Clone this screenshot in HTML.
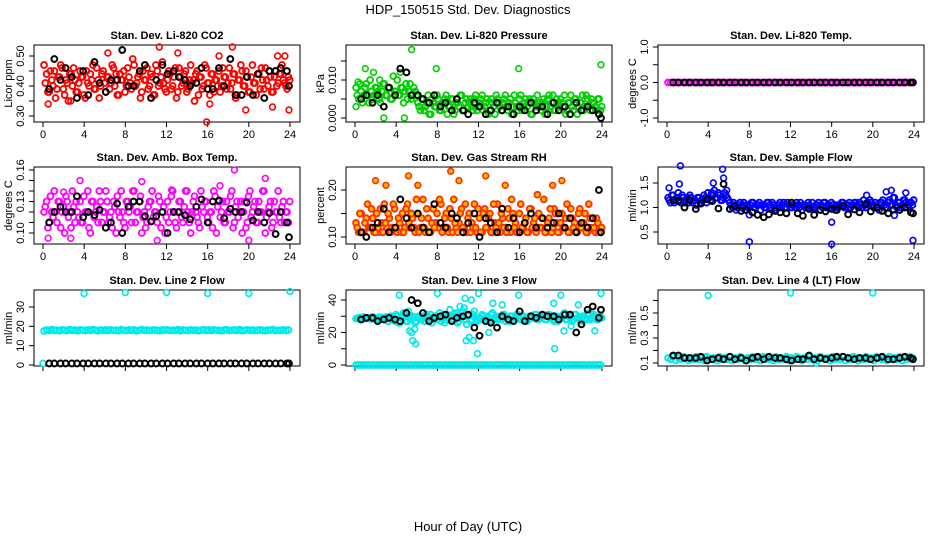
<!DOCTYPE html>
<html><head><meta charset="utf-8"><style>
html,body{margin:0;padding:0;background:#fff;}
svg{display:block;font-family:"Liberation Sans",Arial,sans-serif;}
</style></head><body>
<svg id="chart" width="936" height="540" viewBox="0 0 936 540" xmlns="http://www.w3.org/2000/svg">
<rect width="936" height="540" fill="#fff"/>
<text x="468" y="14" font-size="13" text-anchor="middle">HDP_150515  Std. Dev. Diagnostics</text>
<text x="468" y="531" font-size="13" text-anchor="middle">Hour of Day (UTC)</text>
</svg>
<script>
// shared black-point hours
const blackHours=[0.6,1.1,1.7,2.2,2.8,3.3,3.9,4.4,5.0,5.5,6.1,6.6,7.2,7.7,8.3,8.8,9.4,9.9,10.5,11.0,11.6,12.1,12.7,13.2,13.8,14.3,14.9,15.4,16.0,16.5,17.1,17.6,18.2,18.7,19.3,19.8,20.4,20.9,21.5,22.0,22.6,23.1,23.7,23.9];
const xTicks=[0,4,8,12,16,20,24];

// Panel 1: CO2
const co2A=[0.47,0.44,0.38,0.42,0.45,0.39,0.43,0.46,0.37,0.41,0.44,0.40,0.42,0.38,0.45,0.43,0.36,0.41,0.44,0.47,0.39,0.42,0.40,0.45,0.38,0.43,0.41,0.46,0.44,0.37,0.42,0.45,0.40,0.43,0.39,0.47,0.41,0.44,0.38,0.42,0.46,0.40,0.43,0.37,0.45,0.41,0.48,0.39,0.42,0.44,0.40,0.46,0.38,0.43,0.41,0.45,0.39,0.47,0.42,0.44,0.37,0.43,0.40,0.46,0.41,0.44,0.38,0.42,0.45,0.40,0.43,0.39,0.46,0.41,0.44,0.37,0.42,0.45,0.40,0.43,0.38,0.47,0.41,0.44,0.39,0.42,0.46,0.40,0.43,0.38,0.45,0.41,0.44,0.42,0.40,0.43];
const co2B=[0.41,0.38,0.45,0.40,0.36,0.43,0.47,0.39,0.42,0.35,0.44,0.46,0.38,0.41,0.43,0.37,0.45,0.40,0.42,0.39,0.46,0.36,0.44,0.41,0.43,0.39,0.47,0.40,0.37,0.44,0.42,0.38,0.46,0.41,0.49,0.40,0.43,0.36,0.45,0.42,0.39,0.44,0.37,0.47,0.40,0.43,0.41,0.38,0.45,0.39,0.43,0.36,0.46,0.40,0.44,0.38,0.42,0.41,0.35,0.45,0.43,0.39,0.47,0.41,0.37,0.44,0.42,0.40,0.38,0.46,0.43,0.41,0.39,0.44,0.36,0.42,0.47,0.40,0.45,0.38,0.43,0.41,0.37,0.44,0.46,0.39,0.42,0.45,0.38,0.43,0.40,0.44,0.47,0.41,0.39,0.42];
const co2OutH=[0.1,0.5,2.7,6.3,11.3,13.1,15.9,16.2,18.4,19.7,22.3,23.9,22.8,23.5,17.1];
const co2OutV=[0.47,0.34,0.35,0.51,0.53,0.51,0.28,0.34,0.53,0.32,0.33,0.32,0.50,0.50,0.50];
const co2Black=[0.39,0.49,0.42,0.46,0.43,0.36,0.45,0.37,0.48,0.41,0.38,0.42,0.42,0.52,0.40,0.40,0.45,0.47,0.36,0.42,0.47,0.44,0.45,0.43,0.42,0.40,0.41,0.46,0.39,0.39,0.46,0.40,0.49,0.37,0.37,0.43,0.37,0.44,0.36,0.45,0.45,0.46,0.45,0.40];

// Panel 2: pressure
const presA=[0.008,0.005,0.007,0.006,0.009,0.004,0.007,0.006,0.008,0.005,0.007,0.009,0.006,0.008,0.005,0.007,0.010,0.006,0.008,0.007,0.005,0.009,0.006,0.007,0.004,0.002,0.005,0.003,0.006,0.001,0.004,0.003,0.005,0.002,0.004,0.006,0.003,0.005,0.001,0.004,0.003,0.006,0.002,0.005,0.004,0.003,0.005,0.002,0.004,0.006,0.003,0.005,0.002,0.004,0.001,0.005,0.003,0.004,0.006,0.002,0.005,0.003,0.004,0.002,0.006,0.003,0.005,0.004,0.001,0.005,0.003,0.004,0.002,0.005,0.003,0.006,0.004,0.002,0.005,0.003,0.004,0.006,0.002,0.004,0.003,0.005,0.001,0.004,0.006,0.003,0.005,0.002,0.004,0.003,0.005,0.002];
const presB=[0.006,0.009,0.004,0.008,0.006,0.010,0.005,0.008,0.007,0.004,0.009,0.006,0.008,0.005,0.011,0.007,0.006,0.008,0.004,0.009,0.007,0.005,0.008,0.006,0.003,0.005,0.002,0.004,0.001,0.005,0.003,0.006,0.002,0.004,0.005,0.001,0.003,0.005,0.002,0.004,0.006,0.002,0.004,0.003,0.005,0.002,0.006,0.003,0.005,0.002,0.004,0.001,0.005,0.003,0.006,0.004,0.002,0.005,0.003,0.004,0.001,0.006,0.003,0.005,0.002,0.004,0.003,0.005,0.001,0.004,0.006,0.003,0.004,0.001,0.005,0.003,0.006,0.002,0.004,0.005,0.003,0.001,0.004,0.006,0.002,0.005,0.003,0.004,0.002,0.006,0.003,0.005,0.004,0.002,0.005,0.003];
const presOutH=[0.3,1.0,1.8,2.4,5.5,4.4,23.9,15.9,7.9,0.1,2.8,4.8];
const presOutV=[0.0095,0.013,0.012,0.010,0.018,0.012,0.014,0.013,0.013,0.003,0.0,0.0];
const presBlack=[0.005,0.006,0.004,0.006,0.003,0.008,0.006,0.013,0.012,0.006,0.006,0.005,0.004,0.006,0.003,0.004,0.002,0.005,0.002,0.001,0.004,0.003,0.001,0.002,0.004,0.002,0.003,0.001,0.003,0.002,0.004,0.002,0.003,0.001,0.004,0.002,0.003,0.001,0.004,0.002,0.003,0.002,0.001,0.000];

// Panel 3: Li-820 temp
const tempA=[0,0,0,0,0,0,0,0,0,0,0,0,0,0,0,0,0,0,0,0,0,0,0,0,0,0,0,0,0,0,0,0,0,0,0,0,0,0,0,0,0,0,0,0,0,0,0,0,0,0,0,0,0,0,0,0,0,0,0,0,0,0,0,0,0,0,0,0,0,0,0,0,0,0,0,0,0,0,0,0,0,0,0,0,0,0,0,0,0,0,0,0,0,0,0,0];
const tempBlack=[0,0,0,0,0,0,0,0,0,0,0,0,0,0,0,0,0,0,0,0,0,0,0,0,0,0,0,0,0,0,0,0,0,0,0,0,0,0,0,0,0,0,0,0];

// Panel 4: amb box temp
const boxA=[0.12,0.13,0.11,0.12,0.14,0.11,0.13,0.12,0.10,0.13,0.12,0.14,0.11,0.12,0.13,0.11,0.12,0.14,0.10,0.13,0.12,0.11,0.13,0.12,0.14,0.11,0.12,0.13,0.10,0.12,0.14,0.11,0.13,0.12,0.11,0.14,0.12,0.13,0.10,0.12,0.11,0.13,0.14,0.12,0.11,0.13,0.12,0.10,0.13,0.12,0.14,0.11,0.12,0.13,0.11,0.14,0.12,0.10,0.13,0.12,0.11,0.14,0.12,0.13,0.11,0.12,0.14,0.10,0.13,0.12,0.11,0.13,0.12,0.14,0.11,0.13,0.12,0.10,0.13,0.11,0.14,0.12,0.13,0.11,0.12,0.14,0.10,0.12,0.13,0.11,0.12,0.14,0.11,0.13,0.12,0.11];
const boxB=[0.125,0.105,0.135,0.115,0.12,0.13,0.105,0.125,0.135,0.115,0.105,0.125,0.13,0.115,0.11,0.135,0.12,0.105,0.13,0.115,0.125,0.14,0.11,0.12,0.13,0.115,0.105,0.125,0.135,0.115,0.12,0.105,0.13,0.125,0.14,0.11,0.12,0.135,0.115,0.105,0.125,0.13,0.115,0.12,0.135,0.105,0.125,0.115,0.11,0.135,0.12,0.105,0.13,0.115,0.125,0.14,0.11,0.12,0.135,0.115,0.105,0.125,0.13,0.115,0.12,0.105,0.135,0.125,0.115,0.13,0.11,0.12,0.135,0.105,0.125,0.115,0.13,0.12,0.105,0.135,0.115,0.125,0.11,0.13,0.12,0.14,0.115,0.125,0.105,0.13,0.12,0.115,0.125,0.11,0.12,0.13];
const boxOutH=[0.5,3.6,9.6,18.6,21.6,17.2,20.0,11.1,2.7,12.5,2.0];
const boxOutV=[0.095,0.15,0.149,0.16,0.152,0.145,0.093,0.093,0.095,0.141,0.139];
const boxBlack=[0.11,0.12,0.125,0.12,0.12,0.135,0.115,0.12,0.117,0.122,0.105,0.11,0.128,0.10,0.125,0.13,0.13,0.116,0.111,0.116,0.12,0.10,0.12,0.12,0.117,0.113,0.125,0.132,0.11,0.13,0.131,0.114,0.123,0.12,0.12,0.129,0.112,0.12,0.11,0.119,0.099,0.12,0.11,0.096];

// Panel 5: gas stream RH
const rhA=[0.13,0.11,0.15,0.11,0.14,0.12,0.16,0.11,0.15,0.11,0.13,0.17,0.12,0.14,0.12,0.16,0.11,0.13,0.15,0.12,0.17,0.12,0.14,0.11,0.15,0.12,0.18,0.11,0.14,0.11,0.16,0.13,0.12,0.17,0.12,0.15,0.11,0.14,0.18,0.12,0.13,0.16,0.12,0.11,0.15,0.13,0.17,0.11,0.14,0.11,0.16,0.12,0.15,0.11,0.13,0.17,0.11,0.14,0.12,0.16,0.11,0.15,0.13,0.11,0.17,0.12,0.14,0.11,0.16,0.13,0.11,0.15,0.12,0.18,0.11,0.14,0.11,0.16,0.13,0.11,0.15,0.12,0.17,0.11,0.14,0.13,0.11,0.16,0.12,0.15,0.11,0.14,0.12,0.11,0.13,0.11];
const rhB=[0.12,0.15,0.11,0.13,0.17,0.12,0.14,0.11,0.12,0.16,0.11,0.13,0.15,0.11,0.17,0.12,0.14,0.11,0.11,0.16,0.13,0.15,0.12,0.18,0.11,0.14,0.12,0.16,0.11,0.13,0.12,0.15,0.18,0.11,0.14,0.12,0.16,0.11,0.13,0.11,0.15,0.12,0.17,0.14,0.11,0.12,0.12,0.16,0.11,0.15,0.12,0.14,0.11,0.17,0.12,0.13,0.15,0.12,0.11,0.14,0.18,0.12,0.11,0.15,0.12,0.13,0.11,0.16,0.12,0.14,0.19,0.12,0.14,0.11,0.13,0.16,0.12,0.15,0.11,0.13,0.12,0.14,0.11,0.16,0.12,0.11,0.15,0.12,0.13,0.11,0.17,0.12,0.12,0.14,0.11,0.12];
const rhOutH=[5.2,9.3,10.1,12.7,19.2,20.1,2.0,14.6,3.0,6.1];
const rhOutV=[0.23,0.24,0.22,0.23,0.21,0.22,0.22,0.21,0.21,0.21];
const rhBlack=[0.11,0.10,0.12,0.13,0.16,0.11,0.12,0.18,0.14,0.12,0.15,0.12,0.11,0.17,0.13,0.12,0.15,0.14,0.11,0.13,0.15,0.10,0.14,0.13,0.11,0.16,0.12,0.14,0.11,0.13,0.15,0.12,0.14,0.12,0.13,0.15,0.12,0.14,0.11,0.13,0.12,0.14,0.20,0.11];

// Panel 6: sample flow
const sfA=[1.2,1.1,1.25,1.15,1.3,1.1,1.2,1.15,1.1,1.2,1.15,1.05,1.2,1.15,1.25,1.1,1.2,1.3,1.35,1.2,1.25,1.15,1.3,1.2,1.1,1.0,1.05,1.0,1.1,1.05,0.95,1.0,1.05,1.1,1.0,1.05,0.95,1.05,1.0,1.1,1.0,1.05,0.95,1.05,1.0,1.1,1.0,1.05,1.0,1.05,1.1,1.0,0.95,1.05,1.0,1.05,1.1,1.0,1.05,0.95,1.0,1.1,1.05,1.0,1.05,0.95,1.0,1.05,1.1,1.0,1.05,1.0,1.05,1.1,1.0,1.05,1.15,1.0,1.05,1.1,1.0,1.05,0.95,1.1,1.05,1.0,1.15,1.05,1.2,1.0,1.1,1.05,1.15,1.0,1.1,1.05];
const sfB=[1.15,1.25,1.1,1.2,1.15,1.25,1.1,1.2,1.25,1.1,1.15,1.2,1.1,1.15,1.2,1.3,1.15,1.25,1.2,1.3,1.15,1.2,1.25,1.15,1.05,1.1,0.95,1.05,1.0,1.1,1.05,1.0,1.1,1.0,1.05,1.1,1.05,1.0,1.1,1.05,1.1,1.0,1.05,1.1,1.05,1.0,1.1,1.0,1.05,1.0,1.05,1.1,1.05,1.0,1.1,1.0,1.0,1.05,1.1,1.05,1.1,1.0,1.05,1.1,1.0,1.05,1.05,1.1,1.0,1.05,1.1,1.05,1.1,1.05,1.1,1.0,1.05,1.1,1.15,1.05,1.1,1.0,1.1,1.15,1.0,1.1,1.05,1.2,1.05,1.1,1.0,1.15,1.1,1.05,1.1,1.15];
const sfOutH=[0.2,1.2,1.3,4.5,5.4,5.5,5.8,8.0,16.0,16.0,23.9,21.8,21.3,19.4,23.2,8.0,22.1];
const sfOutV=[1.4,1.48,1.85,1.5,1.78,1.6,1.35,0.3,0.25,0.7,0.33,1.35,1.32,1.25,1.3,0.85,0.84];
const sfBlack=[1.15,1.13,1.0,1.15,0.97,1.08,1.17,1.13,0.98,1.48,0.97,1.03,0.93,0.95,0.9,0.85,0.8,0.86,0.93,0.9,0.88,1.1,0.88,0.83,0.97,0.85,0.95,0.92,0.97,0.95,1.03,0.86,0.96,0.9,1.07,0.92,1.0,0.93,0.88,0.96,0.95,1.0,0.9,0.88];

// Panel 7: line 2 flow
const l2A=[17.6,18.1,17.8,18.3,17.9,18.0,17.7,18.2,18.0,17.8,18.3,17.9,18.1,17.7,18.2,18.0,17.8,18.1,17.9,18.3,18.0,17.7,18.2,17.9,18.1,17.8,18.2,17.9,18.0,17.7,18.3,18.0,17.8,18.1,17.9,18.2,17.7,18.0,18.3,17.9,18.1,17.8,18.0,18.2,17.9,17.7,18.1,18.0,18.2,17.8,18.0,17.9,18.3,17.7,18.1,18.0,17.8,18.2,17.9,18.1,17.7,18.0,18.3,17.9,18.1,17.8,18.2,18.0,17.9,17.7,18.1,18.2,17.8,18.0,18.1,17.9,18.3,17.7,18.0,18.2,17.9,18.1,17.8,18.0,18.2,17.9,17.7,18.1,18.0,18.3,17.8,18.0,17.9,18.2,17.8,18.1];
const l2OutH=[4.0,8.0,12.0,16.0,20.0,24.0,0.0];
const l2OutV=[37,37.5,37.5,37,37,38,0.9];
const l2Black=[0.8,0.8,0.8,0.8,0.8,0.8,0.8,0.8,0.8,0.8,0.8,0.8,0.8,0.8,0.8,0.8,0.8,0.8,0.8,0.8,0.8,0.8,0.8,0.8,0.8,0.8,0.8,0.8,0.8,0.8,0.8,0.8,0.8,0.8,0.8,0.8,0.8,0.8,0.8,0.8,0.8,0.8,0.8,0.8];

// Panel 8: line 3 flow
const l3A=[28.5,29,28,29.5,28.8,29.2,28.3,29,28.7,29.4,28.2,29,28.6,29.3,28,27,30,26,29,31,27,28,30,26,29,28,30,27,29,31,28,30,29,27,31,28,29,30,28,32,27,30,35,25,31,28,33,27,29,31,28,30,27,32,29,28,30,31,27,29,30,28,29,31,28,30,29,28,30,29,31,28,29,30,28,31,29,27,30,28,29,32,28,30,27,31,29,28,30,29,31,28,30,29,28,30];
const l3B=[28.8,28.2,29.4,28.6,29.1,28.4,29.6,28.9,28.1,29.3,28.7,29.5,27,30,28,31,26,29,32,27,30,28,29,27,30,28,27,31,29,26,30,28,32,29,26,30,34,28,31,26,29,33,28,30,27,31,29,28,28,30,29,27,31,28,30,29,28,31,29,27,30,28,31,29,30,28,27,30,29,31,28,29,30,28,31,29,28,30,27,29,31,28,30,29,28,31,29,27,30,28,32,29,31,28,30,29];
const l3Zero=[0,0,0,0,0,0,0,0,0,0,0,0,0,0,0,0,0,0,0,0,0,0,0,0,0,0,0,0,0,0,0,0,0,0,0,0,0,0,0,0,0,0,0,0,0,0,0,0,0,0,0,0,0,0,0,0,0,0,0,0,0,0,0,0,0,0,0,0,0,0,0,0,0,0,0,0,0,0,0,0,0,0,0,0,0,0,0,0,0,0,0,0,0,0,0,0];
const l3OutH=[4.3,5.2,5.5,5.3,5.6,5.9,5.8,8.0,10.2,10.7,10.8,11.1,11.5,11.3,11.9,12.0,13.0,13.4,14.3,15.9,19.4,19.3,20.0,20.3,21.0,23.3,23.9,21.7,9.9];
const l3OutV=[43,33,20,21,15,13,22,44,36,41,15,17,15,40,7,44,20,38,37,43,10,38,43,21,24,21,44,37,30];
const l3Black=[28,29,29,27,28,29,28,27,32,40,38,32,27,29,30,31,27,29,30,31,23,18,27,26,23,30,28,27,33,27,30,29,31,30,30,28,31,31,20,25,34,36,29,34];

// Panel 9: line 4 flow
const l4A=[0.14,0.13,0.15,0.12,0.14,0.13,0.15,0.14,0.12,0.14,0.13,0.15,0.13,0.14,0.12,0.15,0.14,0.13,0.14,0.12,0.15,0.13,0.14,0.13,0.15,0.12,0.14,0.13,0.15,0.14,0.12,0.14,0.13,0.15,0.13,0.14,0.12,0.15,0.14,0.13,0.14,0.12,0.15,0.13,0.14,0.13,0.15,0.12,0.14,0.13,0.15,0.14,0.12,0.14,0.13,0.15,0.13,0.14,0.12,0.15,0.14,0.13,0.14,0.12,0.15,0.13,0.14,0.13,0.15,0.12,0.14,0.13,0.15,0.14,0.12,0.14,0.13,0.15,0.13,0.14,0.12,0.15,0.14,0.13,0.14,0.12,0.15,0.13,0.14,0.13,0.15,0.12,0.14,0.13,0.15,0.14];
const l4OutH=[4.0,12.0,20.0,14.5];
const l4OutV=[0.64,0.66,0.66,0.10];
const l4Black=[0.16,0.16,0.14,0.14,0.14,0.15,0.12,0.13,0.14,0.13,0.15,0.13,0.14,0.12,0.14,0.15,0.13,0.15,0.14,0.14,0.13,0.12,0.13,0.13,0.16,0.13,0.14,0.13,0.14,0.15,0.15,0.14,0.13,0.14,0.14,0.13,0.14,0.15,0.13,0.13,0.14,0.15,0.14,0.13];

const NS='http://www.w3.org/2000/svg';
const svg=document.getElementById('chart');
const colX0=[43,355,667], colX24=[290,602,914], colL=[34,346,658], colR=[300,612,924];
const rowT=[45,167,290], rowB=[122,244,366];

function mk(tag,attrs,parent){const e=document.createElementNS(NS,tag);for(const k in attrs)e.setAttribute(k,attrs[k]);(parent||svg).appendChild(e);return e;}

function panel(c,r,title,ylab,v1,p1,v2,p2,ticks,labels,showX,slug){
  const g=mk('g',{});
  
  
  const L=colL[c],R=colR[c],T=rowT[r],B=rowB[r];
  const P={g:g,x:h=>colX0[c]+h/24*(colX24[c]-colX0[c]),y:v=>p1+(v-v1)/(v2-v1)*(p2-p1)};
  const box=mk('rect',{x:L,y:T,width:R-L,height:B-T,fill:'none',stroke:'#000','stroke-width':1},g);
  
  
  const tt=mk('text',{x:(L+R)/2,y:T-6,'font-size':11,'font-weight':'bold','text-anchor':'middle'},g);
  tt.textContent=title;
  
  
  const yl=mk('text',{x:L-22,y:(T+B)/2,'font-size':11,'text-anchor':'middle',transform:`rotate(-90 ${L-22} ${(T+B)/2})`},g);
  yl.textContent=ylab;
  
  
  ticks.forEach(t=>{const y=P.y(t);
    const tk=mk('line',{x1:L-5,x2:L,y1:y,y2:y,stroke:'#000'},g);
    
    
  });
  labels.forEach(s=>{const y=P.y(parseFloat(s));
    const tl=mk('text',{x:L-10,y:y,'font-size':11,'text-anchor':'middle',transform:`rotate(-90 ${L-10} ${y})`},g);
    tl.textContent=s;
    
    
  });
  xTicks.forEach(h=>{const x=P.x(h);
    const tk=mk('line',{x1:x,x2:x,y1:B,y2:B+5,stroke:'#000'},g);
    
    
    if(showX){const tl=mk('text',{x:x,y:B+16,'font-size':11,'text-anchor':'middle'},g);
      tl.textContent=String(h);
      
      }
  });
  return P;
}
function pts(P,hours,vals,stroke,fill,sw,name){
  vals.forEach((v,i)=>{
    const c=mk('circle',{cx:P.x(hours[i]),cy:P.y(v),r:2.9,fill:fill,stroke:stroke,'stroke-width':sw},P.g);
    
    
  });
}
function dense(P,vals,off,stroke,fill,name){
  const hours=vals.map((v,i)=>i*24/vals.length+off);
  pts(P,hours,vals,stroke,fill,1.9,name);
}
function blk(P,vals,name){pts(P,blackHours,vals,'#000','none',2,name);}

let P;
P=panel(0,0,'Stan. Dev. Li-820 CO2','Licor ppm',0.30,116,0.50,56,[0.30,0.35,0.40,0.45,0.50],['0.30','0.40','0.50'],true,'co2');
dense(P,co2A,0.1,'#ff0000','none','co2-point');dense(P,co2B,0.22,'#ff0000','none','co2-point');
pts(P,co2OutH,co2OutV,'#ff0000','none',1.6,'co2-point');blk(P,co2Black,'co2-hourly-point');

P=panel(1,0,'Stan. Dev. Li-820 Pressure','kPa',0,118,0.010,80,[0,0.005,0.010,0.015],['0.000','0.010'],true,'pressure');
dense(P,presA,0.1,'#00d000','none','pressure-point');dense(P,presB,0.22,'#00d000','none','pressure-point');
pts(P,presOutH,presOutV,'#00d000','none',1.6,'pressure-point');blk(P,presBlack,'pressure-hourly-point');

P=panel(2,0,'Stan. Dev. Li-820 Temp.','degrees C',-1,118,1,47,[-1,-0.5,0,0.5,1],['-1.0','0.0','1.0'],true,'li820-temp');
dense(P,tempA,0.1,'#ff00ff','none','li820-temp-point');blk(P,tempBlack,'li820-temp-hourly-point');

P=panel(0,1,'Stan. Dev. Amb. Box Temp.','degrees C',0.10,233,0.16,170,[0.10,0.11,0.12,0.13,0.14,0.15,0.16],['0.10','0.13','0.16'],true,'box-temp');
dense(P,boxA,0.1,'#ff00ff','none','box-temp-point');dense(P,boxB,0.22,'#ff00ff','none','box-temp-point');
pts(P,boxOutH,boxOutV,'#ff00ff','none',1.6,'box-temp-point');blk(P,boxBlack,'box-temp-hourly-point');

P=panel(1,1,'Stan. Dev. Gas Stream RH','percent',0.10,237,0.20,190,[0.10,0.15,0.20],['0.10','0.20'],true,'rh');
dense(P,rhA,0.1,'#ff3000','#ffc000','rh-point');dense(P,rhB,0.22,'#ff3000','#ffc000','rh-point');
pts(P,rhOutH,rhOutV,'#ff3000','#ffc000',1.6,'rh-point');blk(P,rhBlack,'rh-hourly-point');

P=panel(2,1,'Stan. Dev. Sample Flow','ml/min',0.5,232,1.5,183,[0.5,1.0,1.5],['0.5','1.0','1.5'],true,'sample-flow');
dense(P,sfA,0.1,'#0000ff','none','sample-flow-point');dense(P,sfB,0.22,'#0000ff','none','sample-flow-point');
pts(P,sfOutH,sfOutV,'#0000ff','none',1.6,'sample-flow-point');blk(P,sfBlack,'sample-flow-hourly-point');

P=panel(0,2,'Stan. Dev. Line 2 Flow','ml/min',0,365,30,307,[0,10,20,30],['0','10','20','30'],false,'line2');
dense(P,l2A,0.1,'#00e8e8','none','line2-point');
pts(P,l2OutH,l2OutV,'#00e8e8','none',1.6,'line2-point');blk(P,l2Black,'line2-hourly-point');

P=panel(1,2,'Stan. Dev. Line 3 Flow','ml/min',0,365,40,300,[0,10,20,30,40],['0','20','40'],false,'line3');
dense(P,l3A,0.1,'#00e8e8','none','line3-point');dense(P,l3B,0.22,'#00e8e8','none','line3-point');
dense(P,l3Zero,0.1,'#00e8e8','none','line3-zero-point');
pts(P,l3OutH,l3OutV,'#00e8e8','none',1.6,'line3-point');blk(P,l3Black,'line3-hourly-point');

P=panel(2,2,'Stan. Dev. Line 4 (LT) Flow','ml/min',0.1,363,0.5,313,[0.1,0.2,0.3,0.4,0.5,0.6],['0.1','0.3','0.5'],false,'line4');
dense(P,l4A,0.1,'#00e8e8','none','line4-point');
pts(P,l4OutH,l4OutV,'#00e8e8','none',1.6,'line4-point');blk(P,l4Black,'line4-hourly-point');
</script>
</body></html>
